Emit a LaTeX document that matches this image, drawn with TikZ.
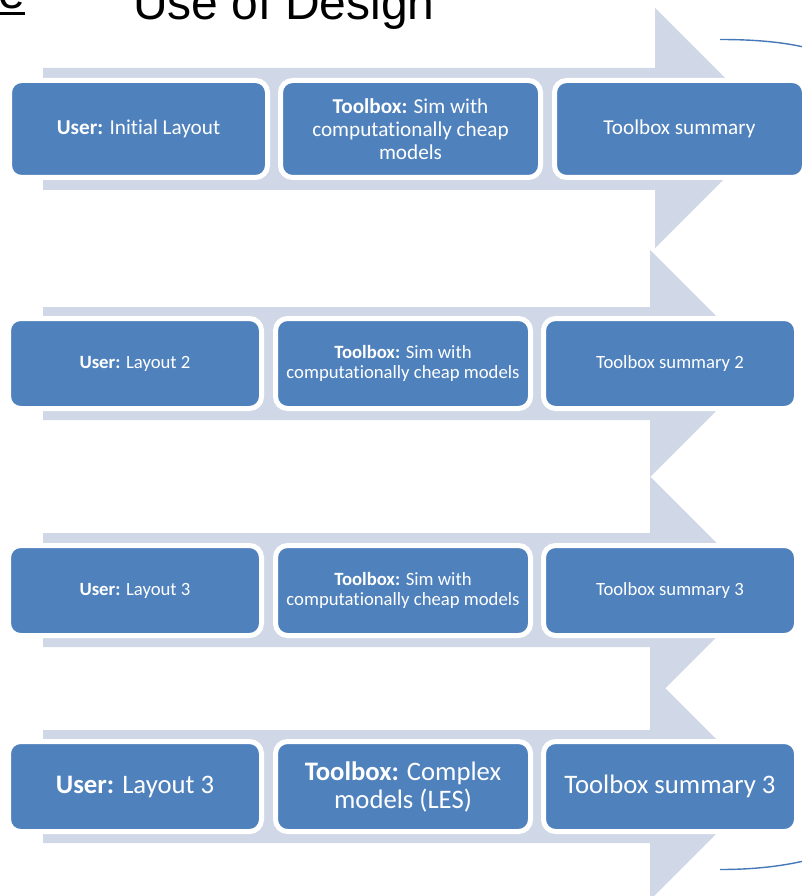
\documentclass[tikz,border=0pt]{standalone}
\usepackage{fontspec}
\setmainfont{Carlito}[Ligatures=NoCommon]
\newfontfamily\arialf{Liberation Sans}
\definecolor{arrowfill}{RGB}{208,216,231}
\definecolor{boxblue}{RGB}{79,129,189}
\definecolor{curveblue}{RGB}{70,120,185}
\tikzset{
  band/.style={fill=arrowfill, draw=none},
  boxnode/.style={draw=white, line width=5pt, fill=boxblue, rounded corners=12pt,
    text=white, align=center, inner sep=0pt, outer sep=0pt},
  rowA/.style={boxnode, minimum height=97pt, font=\fontsize{21.2}{23}\selectfont},
  rowB/.style={boxnode, minimum height=90pt, font=\fontsize{18.7}{20}\selectfont},
  rowC/.style={boxnode, minimum height=90pt, font=\fontsize{26.7}{28}\selectfont},
  bracecurve/.style={draw=curveblue, line width=1.4pt},
}
\begin{document}
\begin{tikzpicture}[x=1pt, y=-1pt]
\useasboundingbox[fill=white] (0,0) rectangle (802,896);
% title and cut-off fragment
\node[anchor=base west, inner sep=0pt, font=\arialf\fontsize{48}{52}\selectfont] (title) at (133,19.5) {Use of Design};
\node[anchor=base west, inner sep=0pt, font=\arialf\fontsize{48}{52}\selectfont] (frag) at (-2,9) {e};
\draw[line width=3pt] (0,13.5) -- (25,13.5);
% arrows
\fill[band] (43,68) -- (655,68) -- (655,8) -- (775,128) -- (655,248) -- (655,190) -- (43,190) -- cycle;
\fill[band] (43,307) -- (650,307) -- (650,250) -- (763.5,363.5) -- (650,477) -- (650,420) -- (43,420) -- cycle;
\fill[band] (43,533) -- (650,533) -- (650,476.5) -- (763.5,590) -- (650,703.5) -- (650,647) -- (43,647) -- cycle;
\fill[band] (43,730) -- (650,730) -- (650,673) -- (763.5,786.5) -- (650,900) -- (650,843) -- (43,843) -- cycle;
% row 1
\node[rowA, minimum width=258pt] (a1) at (138.5,129) {\textbf{User:} Initial Layout};
\node[rowA, minimum width=260pt] (a2) at (410.5,129) {\textbf{Toolbox:} Sim with\\computationally cheap\\models};
\node[rowA, minimum width=250pt] (a3) at (679.5,129) {Toolbox summary};
% row 2
\node[rowB, minimum width=253pt] (b1) at (135,363.5) {\textbf{User:} Layout 2};
\node[rowB, minimum width=255pt] (b2) at (403,363.5) {\textbf{Toolbox:} Sim with\\computationally cheap models};
\node[rowB, minimum width=253pt] (b3) at (670,363.5) {Toolbox summary 2};
% row 3
\node[rowB, minimum width=253pt] (c1) at (135,590.5) {\textbf{User:} Layout 3};
\node[rowB, minimum width=255pt] (c2) at (403,590.5) {\textbf{Toolbox:} Sim with\\computationally cheap models};
\node[rowB, minimum width=253pt] (c3) at (670,590.5) {Toolbox summary 3};
% row 4
\node[rowC, minimum width=253pt] (d1) at (135,786.5) {\textbf{User:} Layout 3};
\node[rowC, minimum width=255pt] (d2) at (403,786.5) {\textbf{Toolbox:} Complex\\models (LES)};
\node[rowC, minimum width=253pt] (d3) at (670,786.5) {Toolbox summary 3};
% brace ends at right
\coordinate (bt1) at (720,39.5);
\coordinate (bt2) at (812,49);
\coordinate (bb1) at (720,869.5);
\coordinate (bb2) at (812,859);
\draw[bracecurve] (bt1) .. controls (755,39.5) and (785,42) .. (bt2);
\draw[bracecurve] (bb1) .. controls (755,869.5) and (785,866) .. (bb2);
\end{tikzpicture}
\end{document}
